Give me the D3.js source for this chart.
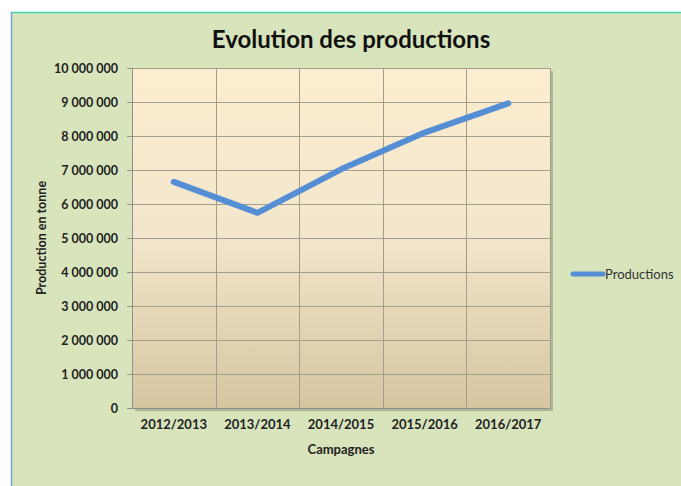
<!DOCTYPE html>
<html>
<head>
<meta charset="utf-8">
<script src="https://cdn.jsdelivr.net/npm/d3@7"></script>
<style>
  body { margin: 0; background: #fff; }
  text { font-family: Lato, "Open Sans", sans-serif; }
</style>
</head>
<body>
<script>
const campagnes = ["2012/2013", "2013/2014", "2014/2015", "2015/2016", "2016/2017"];
const productions = [6650000, 5740000, 7020000, 8100000, 8960000];
const yTicks = [0, 1000000, 2000000, 3000000, 4000000, 5000000, 6000000, 7000000, 8000000, 9000000, 10000000];

const width = 681, height = 486;
const plot = { left: 132, right: 550, top: 68, bottom: 408 };

const svg = d3.select("body").append("svg")
    .attr("width", width)
    .attr("height", height);

const defs = svg.append("defs");
const grad = defs.append("linearGradient")
    .attr("id", "plotBg")
    .attr("x1", 0).attr("y1", 0).attr("x2", 0).attr("y2", 1);
grad.append("stop").attr("offset", "0%").attr("stop-color", "#fdedd0");
grad.append("stop").attr("offset", "50%").attr("stop-color", "#f1e6cc");
grad.append("stop").attr("offset", "100%").attr("stop-color", "#d6c59f");

// chart area background + border
svg.append("rect")
    .attr("x", 11).attr("y", 12)
    .attr("width", width - 11).attr("height", height - 12)
    .attr("fill", "#d8e4bc");
svg.append("line")
    .attr("x1", 11).attr("x2", width).attr("y1", 12.5).attr("y2", 12.5)
    .attr("stroke", "#3fd6b4").attr("stroke-width", 1.5);
svg.append("line")
    .attr("x1", 11.5).attr("x2", 11.5).attr("y1", 12).attr("y2", height)
    .attr("stroke", "#6aa6e0").attr("stroke-width", 1.5);

const x = d3.scaleBand()
    .domain(campagnes)
    .range([plot.left, plot.right]);

const y = d3.scaleLinear()
    .domain([0, 10000000])
    .range([plot.bottom, plot.top]);

// plot shadow
svg.append("rect")
    .attr("x", plot.left + 3).attr("y", plot.top + 3)
    .attr("width", plot.right - plot.left).attr("height", plot.bottom - plot.top)
    .attr("fill", "#9aa487").attr("opacity", 0.7);

svg.append("rect")
    .attr("x", plot.left).attr("y", plot.top)
    .attr("width", plot.right - plot.left).attr("height", plot.bottom - plot.top)
    .attr("fill", "url(#plotBg)");

const grid = svg.append("g").attr("stroke", "#a39d8c").attr("stroke-width", 1);
grid.selectAll(".hg")
    .data(yTicks)
    .enter().append("line")
    .attr("x1", plot.left).attr("x2", plot.right)
    .attr("y1", d => Math.round(y(d)) + 0.5)
    .attr("y2", d => Math.round(y(d)) + 0.5);
grid.selectAll(".vg")
    .data(campagnes)
    .enter().append("line")
    .attr("x1", d => Math.round(x(d) + x.bandwidth()) + 0.5)
    .attr("x2", d => Math.round(x(d) + x.bandwidth()) + 0.5)
    .attr("y1", plot.top).attr("y2", plot.bottom);
grid.append("line")
    .attr("x1", plot.left + 0.5).attr("x2", plot.left + 0.5)
    .attr("y1", plot.top).attr("y2", plot.bottom);

// y axis
const yAxis = svg.append("g")
    .attr("transform", `translate(${plot.left},0)`)
    .call(d3.axisLeft(y)
        .tickValues(yTicks)
        .tickSize(5)
        .tickPadding(9)
        .tickFormat(d => d3.format(",")(d).replace(/,/g, " ")));
yAxis.select(".domain").attr("stroke", "#8f8f8f");
yAxis.selectAll(".tick line").attr("stroke", "#8f8f8f");
yAxis.selectAll("text")
    .attr("font-size", 12.5)
    .attr("font-weight", "bold")
    .attr("fill", "#222");

// x axis
const xAxis = svg.append("g")
    .attr("transform", `translate(0,${plot.bottom})`)
    .call(d3.axisBottom(x).tickSize(0).tickPadding(12));
xAxis.select(".domain").attr("stroke", "#8f8f8f");
xAxis.selectAll("text")
    .attr("font-size", 13)
    .attr("font-weight", "bold")
    .attr("fill", "#222");

// line
const line = d3.line()
    .x((d, i) => x(campagnes[i]) + x.bandwidth() / 2)
    .y(d => y(d));

svg.append("path")
    .datum(productions)
    .attr("d", line)
    .attr("fill", "none")
    .attr("stroke", "#558ed5")
    .attr("stroke-width", 6)
    .attr("stroke-linecap", "round")
    .attr("stroke-linejoin", "round");

// titles
svg.append("text")
    .attr("x", 351).attr("y", 48)
    .attr("text-anchor", "middle")
    .attr("font-size", 24)
    .attr("font-weight", "bold")
    .attr("fill", "#111")
    .text("Evolution des productions");

svg.append("text")
    .attr("transform", "translate(46,238) rotate(-90)")
    .attr("text-anchor", "middle")
    .attr("font-size", 12.5)
    .attr("font-weight", "bold")
    .attr("fill", "#222")
    .text("Production en tonne");

svg.append("text")
    .attr("x", 341).attr("y", 454)
    .attr("text-anchor", "middle")
    .attr("font-size", 13)
    .attr("font-weight", "bold")
    .attr("fill", "#222")
    .text("Campagnes");

// legend
const legend = svg.append("g");
legend.append("line")
    .attr("x1", 573).attr("x2", 603)
    .attr("y1", 274).attr("y2", 274)
    .attr("stroke", "#558ed5")
    .attr("stroke-width", 5)
    .attr("stroke-linecap", "round");
legend.append("text")
    .attr("x", 605).attr("y", 278.5)
    .attr("font-size", 13)
    .attr("fill", "#333")
    .text("Productions");
</script>
</body>
</html>
